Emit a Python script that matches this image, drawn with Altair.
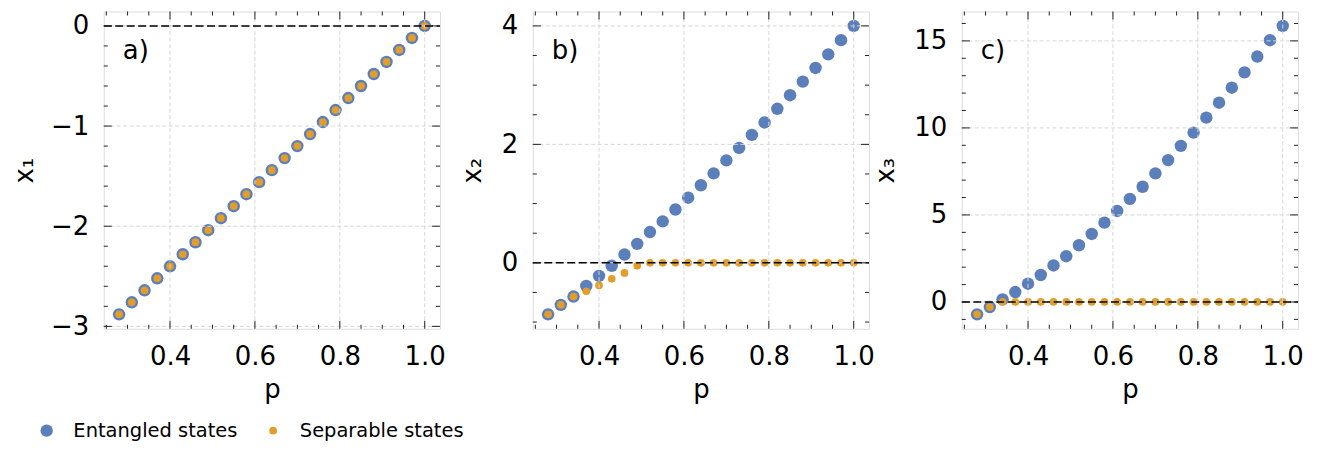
import altair as alt
import pandas as pd

p = [0.28, 0.31, 0.34, 0.37, 0.40, 0.43, 0.46, 0.49, 0.52, 0.55, 0.58, 0.61, 0.64,
     0.67, 0.70, 0.73, 0.76, 0.79, 0.82, 0.85, 0.88, 0.91, 0.94, 0.97, 1.00]

x1_entangled = [-2.88, -2.76, -2.64, -2.52, -2.40, -2.28, -2.16, -2.04, -1.92, -1.80,
                -1.68, -1.56, -1.44, -1.32, -1.20, -1.08, -0.96, -0.84, -0.72, -0.60,
                -0.48, -0.36, -0.24, -0.12, 0.00]
x1_separable = [-2.88, -2.76, -2.64, -2.52, -2.40, -2.28, -2.16, -2.04, -1.92, -1.80,
                -1.68, -1.56, -1.44, -1.32, -1.20, -1.08, -0.96, -0.84, -0.72, -0.60,
                -0.48, -0.36, -0.24, -0.12, 0.00]

x2_entangled = [-0.87, -0.71, -0.57, -0.39, -0.22, -0.05, 0.14, 0.32, 0.52, 0.70,
                0.90, 1.10, 1.31, 1.51, 1.73, 1.94, 2.16, 2.37, 2.60, 2.83,
                3.06, 3.29, 3.52, 3.76, 4.00]
x2_separable = [-0.87, -0.71, -0.57, -0.48, -0.38, -0.27, -0.17, -0.05, 0.0, 0.0,
                0.0, 0.0, 0.0, 0.0, 0.0, 0.0, 0.0, 0.0, 0.0, 0.0,
                0.0, 0.0, 0.0, 0.0, 0.0]

x3_entangled = [-0.71, -0.29, 0.15, 0.57, 1.05, 1.55, 2.10, 2.63, 3.26, 3.91,
                4.56, 5.23, 5.92, 6.62, 7.39, 8.15, 8.97, 9.73, 10.59, 11.45,
                12.31, 13.19, 14.10, 15.04, 15.86]
x3_separable = [-0.71, -0.29, 0.0, 0.0, 0.0, 0.0, 0.0, 0.0, 0.0, 0.0,
                0.0, 0.0, 0.0, 0.0, 0.0, 0.0, 0.0, 0.0, 0.0, 0.0,
                0.0, 0.0, 0.0, 0.0, 0.0]

states = ["Entangled states", "Separable states"]
colors = ["#5b7fbb", "#e39d2b"]
sizes = [155, 60]

x_major = [0.4, 0.6, 0.8, 1.0]
x_minor = [0.25, 0.3, 0.35, 0.45, 0.5, 0.55, 0.65, 0.7, 0.75, 0.85, 0.9, 0.95]
y1_major = [-3, -2, -1, 0]
y1_minor = [-2.8, -2.6, -2.4, -2.2, -1.8, -1.6, -1.4, -1.2, -0.8, -0.6, -0.4, -0.2]
y2_major = [0, 2, 4]
y2_minor = [-1, -0.5, 0.5, 1, 1.5, 2.5, 3, 3.5]
y3_major = [0, 5, 10, 15]
y3_minor = [-1, 1, 2, 3, 4, 6, 7, 8, 9, 11, 12, 13, 14, 16]

W, H = 337, 318
FONT = "DejaVu Sans"
FS = 26


def margin_domain(vals):
    lo, hi = min(vals), max(vals)
    pad = 0.05 * (hi - lo)
    return [lo - pad, hi + pad]


legend_spec = dict(
    orient="none", legendX=-67, legendY=410, direction="horizontal", title=None,
    labelFontSize=19.5, labelFont=FONT, labelColor="black", labelLimit=500,
    symbolType="circle", labelOffset=17, columnPadding=25, padding=0,
    symbolOpacity=1, symbolStrokeWidth=0,
)


def panel(label, ent, sep, ytitle, ymaj, ymin, title_x):
    df = pd.DataFrame({
        "p": p + p,
        "value": ent + sep,
        "state": [states[0]] * len(p) + [states[1]] * len(p),
    })
    xs = alt.Scale(domain=margin_domain(p), nice=False, zero=False)
    ys = alt.Scale(domain=margin_domain(ent + sep), nice=False, zero=False)
    xaxis = alt.Axis(values=x_major, format=".1f", ticks=False, tickSize=0,
                     domain=False, grid=False, labelPadding=15, labelFontSize=FS,
                     labelFont=FONT, labelColor="black", title="p",
                     titleFontSize=FS, titleFont=FONT, titleFontWeight="normal",
                     titleColor="black", titleX=W / 2, titleY=69,
                     titleBaseline="alphabetic", titleAlign="center")
    yaxis = alt.Axis(values=ymaj, format="d", ticks=False, tickSize=0,
                     domain=False, grid=False, labelPadding=15, labelFontSize=FS,
                     labelFont=FONT, labelColor="black", title=ytitle,
                     titleFontSize=FS, titleFont=FONT, titleFontWeight="normal",
                     titleColor="black", titleX=title_x, titleY=H / 2,
                     titleAngle=270, titleBaseline="alphabetic", titleAlign="center")

    def X(f):
        return alt.X(f, type="quantitative", scale=xs, axis=xaxis, title="p")

    def Y(f):
        return alt.Y(f, type="quantitative", scale=ys, axis=yaxis, title=ytitle)

    pts = alt.Chart(df).mark_circle(opacity=1).encode(
        x=X("p"), y=Y("value"),
        color=alt.Color("state:N", scale=alt.Scale(domain=states, range=colors),
                        legend=alt.Legend(**legend_spec)),
        size=alt.Size("state:N", scale=alt.Scale(domain=states, range=sizes),
                      legend=alt.Legend(**legend_spec)),
    )
    gx = alt.Chart(pd.DataFrame({"v": x_major})).mark_rule(
        color="#d6d6d6", strokeDash=[4, 2.5], strokeWidth=1).encode(
        x=X("v"), y=alt.value(0), y2=alt.value(H))
    gy = alt.Chart(pd.DataFrame({"v": ymaj})).mark_rule(
        color="#d6d6d6", strokeDash=[4, 2.5], strokeWidth=1).encode(
        y=Y("v"), x=alt.value(0), x2=alt.value(W))
    zero = alt.Chart(pd.DataFrame({"v": [0.0]})).mark_rule(
        color="black", strokeDash=[8, 3.5], strokeWidth=1.5).encode(
        y=Y("v"), x=alt.value(0), x2=alt.value(W))

    ticks = []
    for vals, L in ((x_major, 8), (x_minor, 4)):
        d = pd.DataFrame({"v": vals})
        ticks.append(alt.Chart(d).mark_rule(color="#222", strokeWidth=1).encode(
            x=X("v"), y=alt.value(H), y2=alt.value(H - L)))
        ticks.append(alt.Chart(d).mark_rule(color="#222", strokeWidth=1).encode(
            x=X("v"), y=alt.value(0), y2=alt.value(L)))
    for vals, L in ((ymaj, 8), (ymin, 4)):
        d = pd.DataFrame({"v": vals})
        ticks.append(alt.Chart(d).mark_rule(color="#222", strokeWidth=1).encode(
            y=Y("v"), x=alt.value(0), x2=alt.value(L)))
        ticks.append(alt.Chart(d).mark_rule(color="#222", strokeWidth=1).encode(
            y=Y("v"), x=alt.value(W - L), x2=alt.value(W)))

    txt = alt.Chart(pd.DataFrame({"t": [label]})).mark_text(
        align="left", baseline="alphabetic", fontSize=FS, font=FONT, color="black"
    ).encode(text="t:N", x=alt.value(19), y=alt.value(48))

    return alt.layer(pts, gx, gy, zero, *ticks, txt).properties(width=W, height=H)


pa = panel("a)", x1_entangled, x1_separable, "x₁", y1_major, y1_minor, -71)
pb = panel("b)", x2_entangled, x2_separable, "x₂", y2_major, y2_minor, -52)
pc = panel("c)", x3_entangled, x3_separable, "x₃", y3_major, y3_minor, -68)

chart = alt.hconcat(pa, pb, pc, spacing=93, bounds="flush").properties(
    padding={"left": 3, "top": 2, "right": 5, "bottom": 5}
).configure_view(stroke="#333", strokeWidth=1.5).configure(font=FONT)

chart.save("out.html", embed_options={"renderer": "svg", "actions": False})
